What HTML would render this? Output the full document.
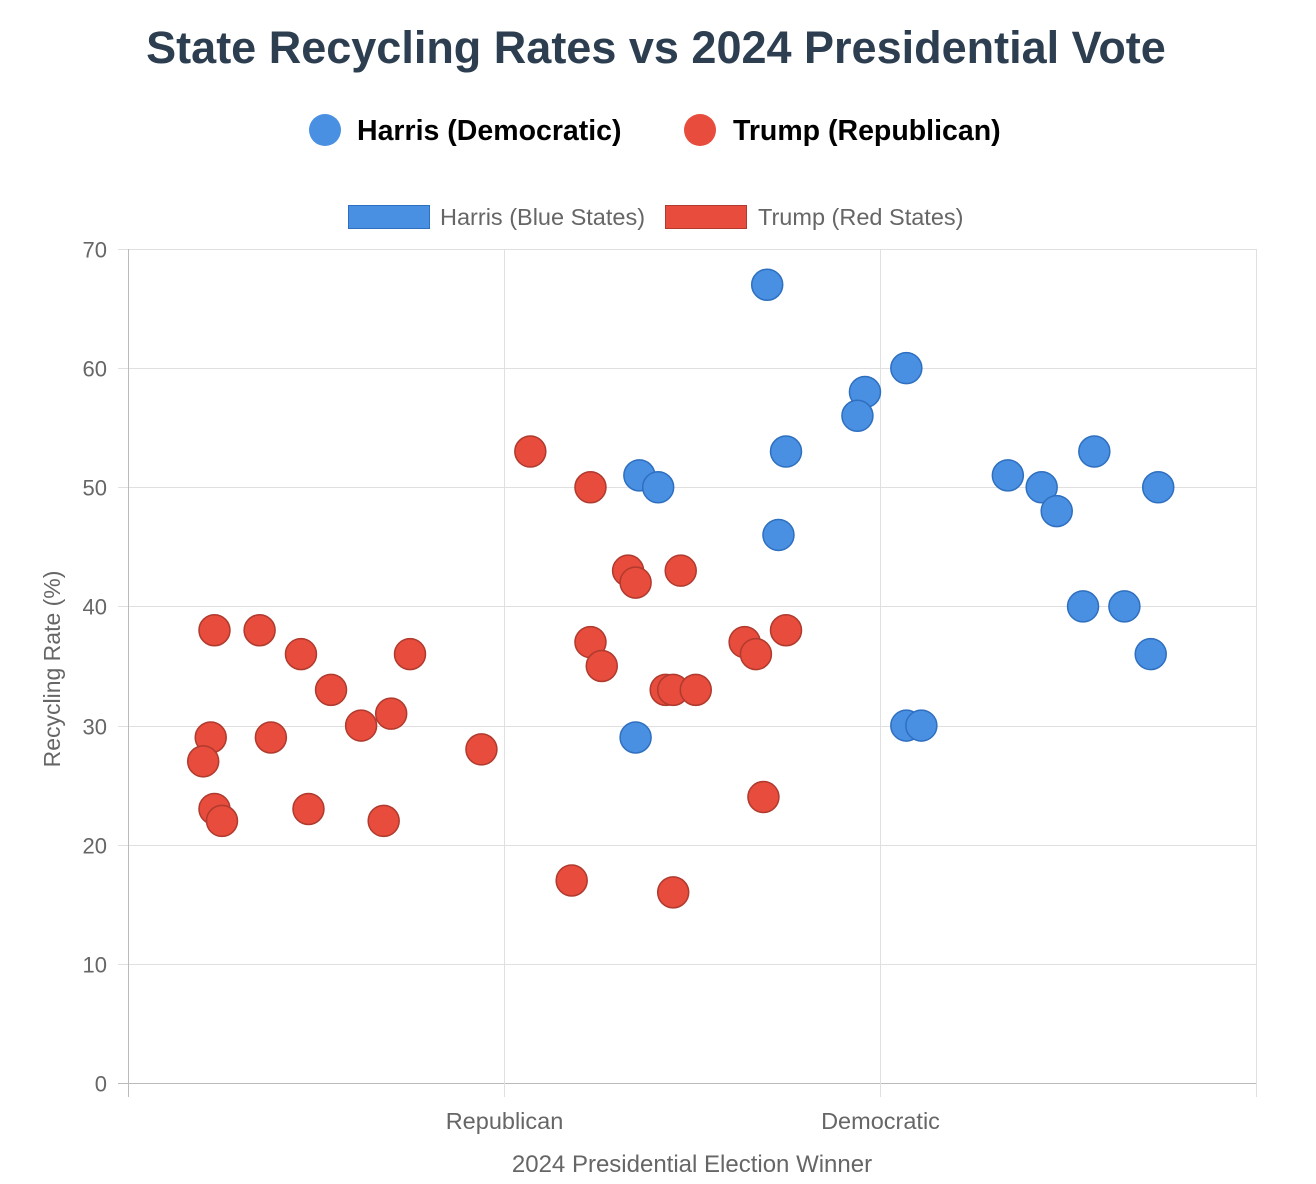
<!DOCTYPE html>
<html><head><meta charset="utf-8"><style>
body{margin:0;background:#fff;font-family:"Liberation Sans",Arial,sans-serif;}
svg{display:block}
</style></head><body>
<svg id="chart" width="1316" height="1184" viewBox="0 0 1316 1184" xmlns="http://www.w3.org/2000/svg">
<text x="656" y="63" text-anchor="middle" font-size="45" font-weight="bold" fill="#2c3e50">State Recycling Rates vs 2024 Presidential Vote</text>
<g>
<circle cx="325" cy="130" r="16" fill="#4a90e2"/>
<text x="357" y="140" font-size="28.5" font-weight="bold" fill="#000">Harris (Democratic)</text>
<circle cx="700" cy="130" r="16" fill="#e74c3c"/>
<text x="733" y="140" font-size="28.5" font-weight="bold" fill="#000">Trump (Republican)</text>
</g>
<g>
<rect x="348.5" y="205.5" width="81" height="23" fill="#4a90e2" stroke="#2e6fc0"/>
<text x="440" y="225" font-size="23.5" fill="#666">Harris (Blue States)</text>
<rect x="665.5" y="205.5" width="81" height="23" fill="#e74c3c" stroke="#b03a2e"/>
<text x="758" y="225" font-size="23.5" fill="#666">Trump (Red States)</text>
</g>
<g id="grid"></g>
<g id="axes"></g>
<g id="points"></g>
<text transform="translate(60,669) rotate(-90)" text-anchor="middle" font-size="23" fill="#666">Recycling Rate (%)</text>
<text x="692" y="1172" text-anchor="middle" font-size="24" fill="#666">2024 Presidential Election Winner</text>
</svg>
<script>
const yTicks=[0,10,20,30,40,50,60,70];
const xTickLabels=["","Republican","Democratic",""];
const redX=[0.23,0.35,0.46,0.54,0.62,0.70,0.75,0.22,0.20,0.38,0.23,0.25,0.48,0.68,0.94,1.07,1.23,1.33,1.35,1.47,1.23,1.26,1.43,1.45,1.51,1.18,1.45,1.64,1.67,1.75,1.69];
const redY=[38,38,36,33,30,31,36,29,27,29,23,22,23,22,28,53,50,43,42,43,37,35,33,33,33,17,16,37,36,38,24];
const blueX=[1.70,2.07,1.96,1.94,1.75,1.36,1.41,1.73,1.35,2.07,2.11,2.34,2.43,2.47,2.57,2.74,2.54,2.65,2.72];
const blueY=[67,60,58,56,53,51,50,46,29,30,30,51,50,48,53,50,40,40,36];
const NS="http://www.w3.org/2000/svg";
const L=128,R=1256,T=249,B=1083;
const xs=v=>L+(R-L)*v/3;
const ys=v=>B-(B-T)*v/70;
function mk(tag,attrs,parent){const e=document.createElementNS(NS,tag);for(const k in attrs)e.setAttribute(k,attrs[k]);parent.appendChild(e);return e;}
const grid=document.getElementById('grid'),axes=document.getElementById('axes'),pts=document.getElementById('points');
yTicks.forEach(t=>{
 const y=Math.round(ys(t))+0.5;
 const g=mk('line',{x1:L-10,x2:R,y1:y,y2:y,stroke:t===0?'#bbb':'#e0e0e0','stroke-width':1},grid);
 
 
 const tx=mk('text',{x:L-21,y:y+8,'text-anchor':'end','font-size':22,fill:'#666'},axes);
 tx.textContent=t;
 
 
});
xTickLabels.forEach((lab,i)=>{
 const x=Math.round(xs(i))+0.5;
 const g=mk('line',{x1:x,x2:x,y1:T,y2:B+14,stroke:i===0?'#bbb':'#e0e0e0','stroke-width':1},grid);
 
 
 const tx=mk('text',{x:x,y:B+46,'text-anchor':'middle','font-size':23.5,fill:'#666'},axes);
 tx.textContent=lab;
 
 
});
redX.forEach((v,i)=>{
 const c=mk('circle',{cx:xs(v),cy:ys(redY[i]),r:15.5,fill:'#e74c3c',stroke:'#b03a2e','stroke-width':1.5},pts);
 
 
});
blueX.forEach((v,i)=>{
 const c=mk('circle',{cx:xs(v),cy:ys(blueY[i]),r:15.5,fill:'#4a90e2',stroke:'#2e6fc0','stroke-width':1.5},pts);
 
 
});
</script>
</body></html>
